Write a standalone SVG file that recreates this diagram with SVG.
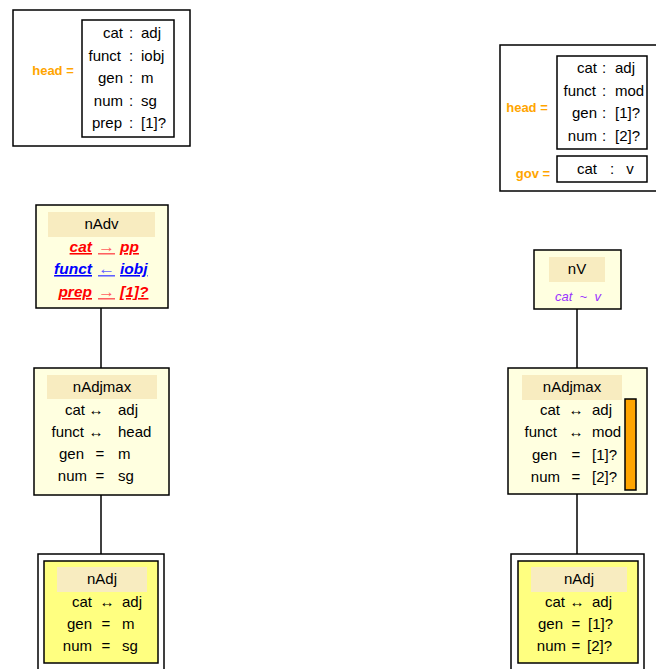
<svg xmlns="http://www.w3.org/2000/svg" width="656" height="669" viewBox="0 0 656 669">
<style>
text{font-family:"Liberation Sans",Arial,sans-serif;font-size:15px;fill:#000}
.frame{fill:#fff;stroke:#000;stroke-width:1.5}
.box{fill:none;stroke:#000;stroke-width:1.5}
.node{fill:#ffffe0;stroke:#000;stroke-width:1.5}
.hdr{fill:#f8ecc0;stroke:none}
.inner{fill:#ffff80;stroke:#000;stroke-width:1.5}
.lab{font-weight:bold;font-size:13px;fill:#ffa500}
.m{text-anchor:middle}
.e{text-anchor:end}
.bi{font-weight:bold;font-style:italic;text-decoration:underline;font-size:15.5px}
.ar{font-size:15.5px;font-weight:bold;text-decoration:underline}
.r{fill:#ff0000}
.ra{fill:#ff6060}
.b{fill:#0000ff}
.ba{fill:#6060ff}
.p{fill:#9933ff;font-style:italic;font-size:13px}
.con{stroke:#000;stroke-width:1.5;fill:none}
</style>

<g id="constraint-left">
<rect class="frame" x="13" y="10" width="177" height="136"/>
<text class="lab m" x="53" y="75">head =</text>
<rect class="box" x="82" y="20" width="92" height="117"/>
<text class="e" x="123" y="38">cat</text><text class="m" x="131" y="38">:</text><text x="141" y="38">adj</text>
<text class="e" x="121" y="60.5">funct</text><text class="m" x="131" y="60.5">:</text><text x="141" y="60.5">iobj</text>
<text class="e" x="123" y="83">gen</text><text class="m" x="131" y="83">:</text><text x="141" y="83">m</text>
<text class="e" x="123" y="105.5">num</text><text class="m" x="131" y="105.5">:</text><text x="141" y="105.5">sg</text>
<text class="e" x="122" y="128">prep</text><text class="m" x="131" y="128">:</text><text x="141" y="128">[1]?</text>
</g>

<g id="constraint-right">
<rect class="frame" x="500" y="45" width="170" height="146"/>
<text class="lab m" x="527" y="112">head =</text>
<rect class="box" x="557" y="56" width="90" height="93"/>
<text class="e" x="597" y="73">cat</text><text class="m" x="604" y="73">:</text><text x="615" y="73">adj</text>
<text class="e" x="596" y="96">funct</text><text class="m" x="604" y="96">:</text><text x="615" y="96">mod</text>
<text class="e" x="597" y="118">gen</text><text class="m" x="604" y="118">:</text><text x="615" y="118">[1]?</text>
<text class="e" x="597" y="141">num</text><text class="m" x="604" y="141">:</text><text x="615" y="141">[2]?</text>
<text class="lab m" x="533" y="178">gov =</text>
<rect class="box" x="557" y="156" width="90" height="26"/>
<text class="e" x="597" y="174">cat</text><text class="m" x="612" y="174">:</text><text class="m" x="630" y="174">v</text>
</g>

<g id="connectors">
<line class="con" x1="101" y1="308" x2="101" y2="368"/>
<line class="con" x1="101" y1="495" x2="101" y2="554"/>
<line class="con" x1="577" y1="309" x2="577" y2="368"/>
<line class="con" x1="577" y1="494" x2="577" y2="554"/>
</g>

<g id="nAdv">
<rect class="node" x="36" y="205" width="132" height="103"/>
<rect class="hdr" x="48" y="212" width="107" height="25"/>
<text class="m" x="101.5" y="229">nAdv</text>
<text class="bi r e" x="92" y="252">cat</text><text class="ar ra" x="98" y="252" textLength="17" lengthAdjust="spacingAndGlyphs">→</text><text class="bi r" x="120" y="252">pp</text>
<text class="bi b e" x="92" y="274">funct</text><text class="ar ba" x="98" y="274" textLength="17" lengthAdjust="spacingAndGlyphs">←</text><text class="bi b" x="120" y="274">iobj</text>
<text class="bi r e" x="92" y="297">prep</text><text class="ar ra" x="98" y="297" textLength="17" lengthAdjust="spacingAndGlyphs">→</text><text class="bi r" x="120" y="297">[1]?</text>
</g>

<g id="nAdjmax-left">
<rect class="node" x="34" y="368" width="135" height="127"/>
<rect class="hdr" x="47" y="375" width="110" height="24"/>
<text class="m" x="102" y="392">nAdjmax</text>
<text class="e" x="85" y="415">cat</text><text class="m" x="96" y="415">↔</text><text x="118" y="415">adj</text>
<text class="e" x="84" y="437">funct</text><text class="m" x="96" y="437">↔</text><text x="118" y="437">head</text>
<text class="e" x="84" y="459">gen</text><text class="m" x="100" y="459">=</text><text x="118" y="459">m</text>
<text class="e" x="87" y="481">num</text><text class="m" x="100" y="481">=</text><text x="118" y="481">sg</text>
</g>

<g id="nAdj-left">
<rect class="frame" x="38" y="554" width="126" height="125"/>
<rect class="inner" x="44" y="561" width="114" height="102"/>
<rect class="hdr" x="57" y="567" width="90" height="25"/>
<text class="m" x="102" y="584">nAdj</text>
<text class="e" x="92" y="607">cat</text><text class="m" x="107" y="607">↔</text><text x="122" y="607">adj</text>
<text class="e" x="92" y="629">gen</text><text class="m" x="106" y="629">=</text><text x="122" y="629">m</text>
<text class="e" x="92" y="651">num</text><text class="m" x="106" y="651">=</text><text x="122" y="651">sg</text>
</g>

<g id="nV">
<rect class="node" x="534" y="250" width="87" height="59"/>
<rect class="hdr" x="549" y="257" width="56" height="25"/>
<text class="m" x="577" y="274">nV</text>
<text class="p m" x="578" y="301" xml:space="preserve">cat  ~  v</text>
</g>

<g id="nAdjmax-right">
<rect class="node" x="508" y="368" width="139" height="126"/>
<rect class="hdr" x="522" y="375" width="100" height="25"/>
<text class="m" x="572" y="392">nAdjmax</text>
<text class="e" x="560" y="415">cat</text><text class="m" x="576" y="415">↔</text><text x="592" y="415">adj</text>
<text class="e" x="557" y="437">funct</text><text class="m" x="576" y="437">↔</text><text x="592" y="437">mod</text>
<text class="e" x="557" y="460">gen</text><text class="m" x="576" y="460">=</text><text x="592" y="460">[1]?</text>
<text class="e" x="560" y="482">num</text><text class="m" x="576" y="482">=</text><text x="592" y="482">[2]?</text>
<rect x="625" y="399" width="11" height="91" fill="#ffa500" stroke="#000" stroke-width="1.5"/>
</g>

<g id="nAdj-right">
<rect class="frame" x="511" y="554" width="133" height="125"/>
<rect class="inner" x="518" y="561" width="120" height="102"/>
<rect class="hdr" x="531" y="567" width="96" height="25"/>
<text class="m" x="579" y="584">nAdj</text>
<text class="e" x="565" y="607">cat</text><text class="m" x="577" y="607">↔</text><text x="592" y="607">adj</text>
<text class="e" x="563" y="629">gen</text><text class="m" x="576" y="629">=</text><text x="588" y="629">[1]?</text>
<text class="e" x="566" y="651">num</text><text class="m" x="576" y="651">=</text><text x="587" y="651">[2]?</text>
</g>
</svg>
